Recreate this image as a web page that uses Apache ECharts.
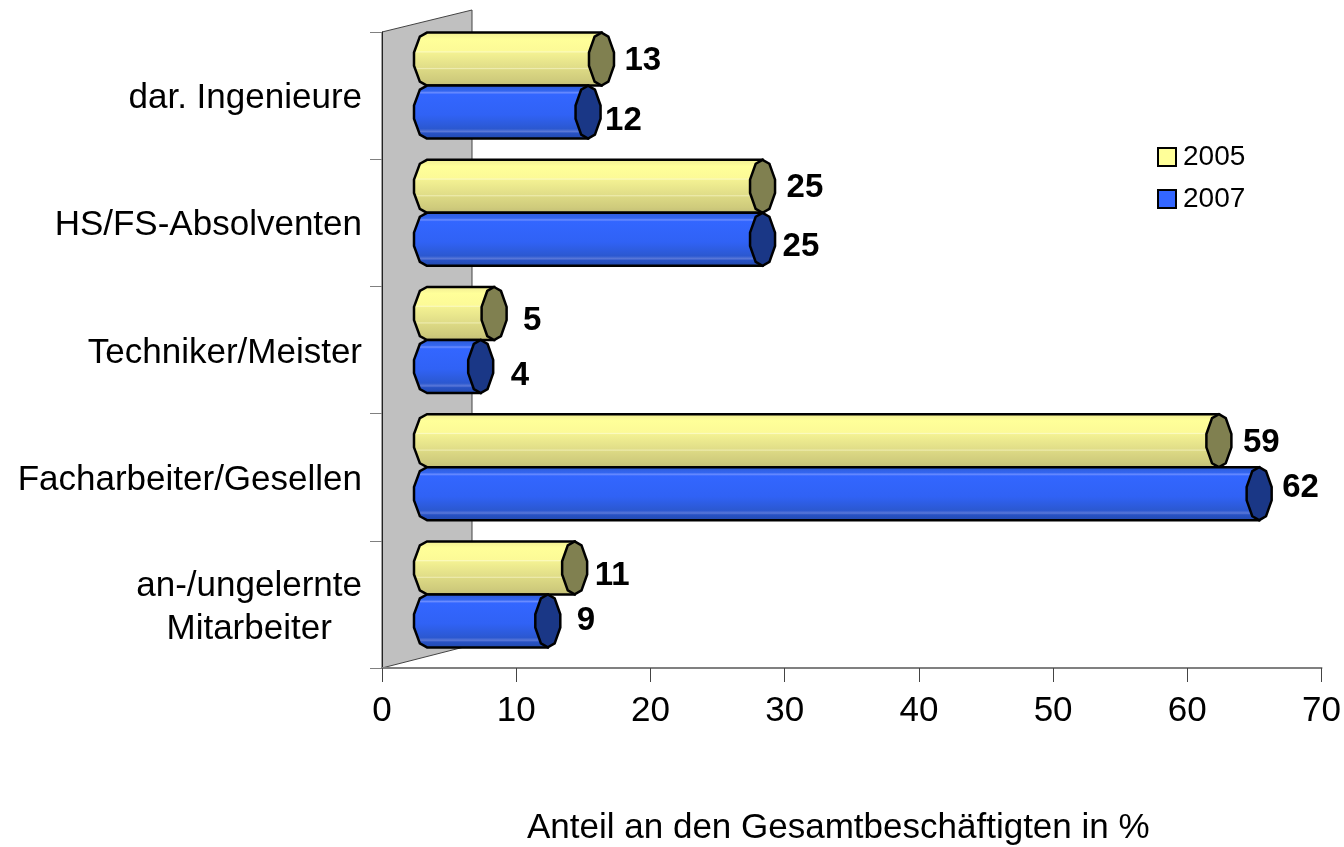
<!DOCTYPE html>
<html>
<head>
<meta charset="utf-8">
<style>
  html, body { margin: 0; padding: 0; background: #fff; }
  #chart { width: 1344px; height: 847px; }
</style>
<script src="https://cdn.jsdelivr.net/npm/echarts@6/dist/echarts.min.js"></script>
</head>
<body>
<div id="chart"></div>
<script>
  // top to bottom, as in the picture
  var categories = ['dar. Ingenieure', 'HS/FS-Absolventen', 'Techniker/Meister', 'Facharbeiter/Gesellen', 'an-/ungelernte\nMitarbeiter'];
  var values2005 = [13, 25, 5, 59, 11];
  var values2007 = [12, 25, 4, 62, 9];
  var xTicks = [0, 10, 20, 30, 40, 50, 60, 70];

  // hand placed data labels of the original, px relative to the bar end
  var labelNudge2005 = [[23, 2], [24, 2], [29, 7], [24, 2], [20, 8]];
  var labelNudge2007 = [[17, 9], [20, 8], [30, 9], [23, -6], [29, 0]];

  var FONT = '"Liberation Sans", Arial, sans-serif';
  var DEPTH_X = 45;     // fake 3d shift of the bars
  var DEPTH_Y = -10;
  var BAR_H = 53;
  var CAP_W = 12.5;

  // low poly ellipse, same as the faceted ends in the original
  var capRight = [[0, -1], [0.55, -0.85], [1, -0.25], [1, 0.25], [0.55, 0.85], [0, 1]];
  var capLeft = [[0, 1], [-0.55, 0.85], [-1, 0.25], [-1, -0.25], [-0.55, -0.85], [0, -1]];

  function bands(stops) {
    return {
      type: 'linear', x: 0, y: 0, x2: 0, y2: 1,
      colorStops: stops.map(function (s) { return {offset: s[0], color: s[1]} })
    }
  }

  var yellowBody = bands([
    [0, '#f0ee90'], [0.08, '#f8f696'], [0.14, '#ffff99'], [0.35, '#fcfa97'], [0.37, '#fbfac0'],
    [0.39, '#f3f192'], [0.65, '#e0dd88'], [0.67, '#eeecb0'], [0.69, '#dcd984'], [0.88, '#cfcb7c'], [1, '#c2bd76']
  ]);
  var blueBody = bands([
    [0, '#2c58d4'], [0.12, '#3366f0'], [0.15, '#6a8cff'], [0.18, '#3366ff'], [0.55, '#3062f5'],
    [0.8, '#2b58d0'], [0.85, '#5a78d8'], [0.88, '#2852c4'], [1, '#2048aa']
  ]);

  function cylinder(body, capColor, side, nudge) {
    return function (params, api) {
      var value = api.value(0);
      var end = api.coord([value, api.value(1)]);
      var start = api.coord([0, api.value(1)]);
      var cy = end[1] + DEPTH_Y + side * BAR_H / 2;
      var x0 = start[0] + DEPTH_X;
      var x1 = end[0] + DEPTH_X;
      var h = BAR_H / 2;
      var pts = [];
      capLeft.forEach(function (p) { pts.push([x0 + p[0] * 13, cy + p[1] * h]) });
      pts.push([x1, cy - h], [x1, cy + h]);
      var cap = capRight.concat(capLeft).map(function (p) { return [x1 + p[0] * CAP_W, cy + p[1] * h] });
      var n = nudge[params.dataIndex];
      return {
        type: 'group',
        children: [
          {type: 'polygon', shape: {points: pts}, style: {fill: body, stroke: '#000', lineWidth: 2.5}},
          {type: 'polygon', shape: {points: cap}, style: {fill: capColor, stroke: '#000', lineWidth: 2.5}},
          {
            type: 'text',
            style: {
              x: x1 + n[0], y: cy + n[1], text: String(value), fill: '#000',
              font: 'bold 33px ' + FONT, align: 'left', verticalAlign: 'middle'
            }
          }
        ]
      }
    }
  }

  function seriesData(values) {
    return values.map(function (v, i) { return [v, i] })
  }

  var chart = echarts.init(document.getElementById('chart'));
  chart.setOption({
    animation: false,
    backgroundColor: '#fff',
    title: {
      text: 'Anteil an den Gesamtbeschäftigten in %',
      left: 527, top: 811,
      padding: 0,
      textStyle: {fontFamily: FONT, fontSize: 35, fontWeight: 'normal', color: '#000'}
    },
    legend: {
      orient: 'vertical',
      left: 1157, top: 143,
      padding: 0,
      itemWidth: 18, itemHeight: 18, itemGap: 14,
      icon: 'rect',
      data: ['2005', '2007'],
      textStyle: {fontFamily: FONT, fontSize: 28, color: '#000', padding: [0, 0, 0, 2]}
    },
    grid: {left: 382, top: 32, width: 940, height: 636},
    xAxis: {
      type: 'value', min: 0, max: 70, interval: 10,
      axisLine: {show: true, onZero: false, lineStyle: {color: '#808080', width: 2}},
      axisTick: {show: true, length: 14, lineStyle: {color: '#444', width: 1}},
      splitLine: {show: false},
      axisLabel: {
        margin: 26, fontFamily: FONT, fontSize: 35, color: '#000',
        customValues: xTicks
      }
    },
    yAxis: {
      type: 'category', inverse: true, data: categories,
      axisLine: {show: true, lineStyle: {color: '#222', width: 1}},
      axisTick: {show: true, length: 12, lineStyle: {color: '#808080', width: 1}},
      axisLabel: {
        margin: 20,
        padding: [6, 0, 0, 0],
        formatter: function (v) {
          return v.split('\n').map(function (l) { return '{c|' + l + '}' }).join('\n')
        },
        rich: {c: {fontFamily: FONT, fontSize: 35, lineHeight: 43, color: '#000', align: 'center'}}
      }
    },
    graphic: [{
      // back wall of the 3d plot
      type: 'polygon', z: 0, silent: true,
      shape: {points: [[382, 32], [472, 10], [472, 645], [382, 668]]},
      style: {fill: '#c0c0c0', stroke: '#444', lineWidth: 1}
    }],
    series: [
      {
        name: '2005', type: 'custom', z: 3, clip: false,
        encode: {x: 0, y: 1},
        itemStyle: {color: '#ffff99', borderColor: '#000', borderWidth: 2},
        renderItem: cylinder(yellowBody, '#808050', -1, labelNudge2005),
        data: seriesData(values2005)
      },
      {
        name: '2007', type: 'custom', z: 4, clip: false,
        encode: {x: 0, y: 1},
        itemStyle: {color: '#3366ff', borderColor: '#000', borderWidth: 2},
        renderItem: cylinder(blueBody, '#1a3786', 1, labelNudge2007),
        data: seriesData(values2007)
      }
    ]
  });
</script>
</body>
</html>
